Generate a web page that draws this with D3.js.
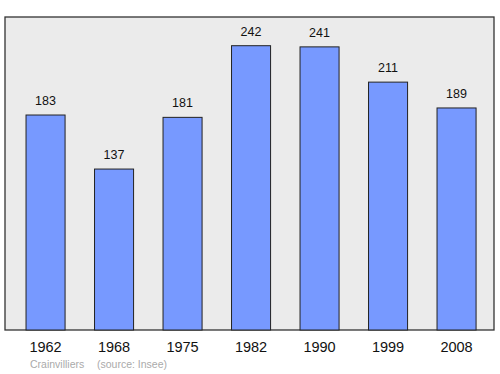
<!DOCTYPE html>
<html>
<head>
<meta charset="utf-8">
<script src="https://cdn.jsdelivr.net/npm/d3@7"></script>
<style>
  body { margin: 0; background: #fff; }
  svg { display: block; font-family: "Liberation Sans", Arial, sans-serif; }
</style>
</head>
<body>
<svg id="chart" width="500" height="374"></svg>
<script>
(function(){

  // data
  var years = ['1962', '1968', '1975', '1982', '1990', '1999', '2008'];
  var population = [183, 137, 181, 242, 241, 211, 189];
  var commune = 'Crainvilliers';
  var source = '(source: Insee)';

  var panel = { left: 5, top: 17, right: 494, bottom: 330 };

  var svg = d3.select('#chart');

  // background panel
  svg.append('rect')
    .attr('x', panel.left)
    .attr('y', panel.top)
    .attr('width', panel.right - panel.left)
    .attr('height', panel.bottom - panel.top)
    .attr('fill', '#ebebeb')
    .attr('stroke', '#333')
    .attr('stroke-width', 1.3);

  var x = d3.scaleBand()
    .domain(years)
    .range([11.3, 490.8])
    .paddingInner(0.43)
    .paddingOuter(0.215);

  // 242 -> y 45.7
  var y = d3.scaleLinear()
    .domain([0, 242])
    .range([panel.bottom, 45.7]);

  var data = years.map(function(yr, i) { return { year: yr, value: population[i] }; });

  svg.append('g').selectAll('rect')
    .data(data)
    .enter()
    .append('rect')
    .attr('x', function(d) { return x(d.year); })
    .attr('y', function(d) { return y(d.value); })
    .attr('width', x.bandwidth())
    .attr('height', function(d) { return panel.bottom - y(d.value); })
    .attr('fill', '#7799ff')
    .attr('stroke', '#222')
    .attr('stroke-width', 1);

  // value labels
  svg.append('g').selectAll('text')
    .data(data)
    .enter()
    .append('text')
    .attr('x', function(d) { return x(d.year) + x.bandwidth() / 2; })
    .attr('y', function(d) { return y(d.value) - 10; })
    .attr('text-anchor', 'middle')
    .attr('font-size', 12.5)
    .attr('fill', '#111')
    .text(function(d) { return d.value; });

  // x axis labels
  var axis = d3.axisBottom(x).tickSize(0).tickPadding(0);
  var gx = svg.append('g')
    .attr('transform', 'translate(0,' + panel.bottom + ')')
    .call(axis);
  gx.select('.domain').remove();
  gx.selectAll('text')
    .attr('dy', null)
    .attr('y', 22)
    .attr('font-size', 14.5)
    .attr('font-family', '"Liberation Sans", Arial, sans-serif')
    .attr('fill', '#111');

  // source line
  svg.append('text')
    .attr('x', 30)
    .attr('y', 368)
    .attr('font-size', 10.5)
    .attr('fill', '#aaa')
    .text(commune);
  svg.append('text')
    .attr('x', 97)
    .attr('y', 368)
    .attr('font-size', 10.5)
    .attr('fill', '#aaa')
    .text(source);

})();
</script>
</body>
</html>
